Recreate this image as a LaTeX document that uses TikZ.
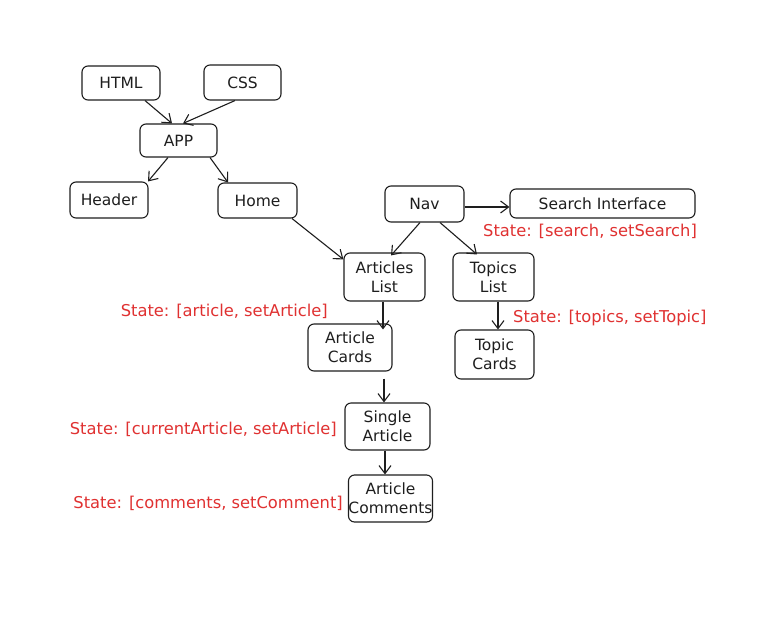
\documentclass[tikz,border=0pt]{standalone}
\usepackage{fontspec}
\setmainfont{DejaVu Sans}
\usetikzlibrary{arrows.meta}
\definecolor{ink}{HTML}{1E1E1E}
\definecolor{redtxt}{HTML}{E03131}
\tikzset{
  box/.style={draw=ink, line width=1.1pt, rounded corners=6pt, fill=white, align=center,
    inner sep=0pt, font=\fontsize{15.5}{19}\selectfont, text=ink},
  conn/.style={draw=ink, line width=1.1pt, -{Straight Barb[length=8pt,width=12pt,line width=1.1pt]}},
  state/.style={text=redtxt, font=\fontsize{16.3}{19}\selectfont, inner sep=0pt}
}
\begin{document}
\begin{tikzpicture}[x=1pt,y=-1pt]
\useasboundingbox[fill=white] (0,0) rectangle (781,616);
\node[box, minimum width=78pt, minimum height=34pt] (html) at (121,83) {HTML};
\node[box, minimum width=77pt, minimum height=35pt] (css) at (242.5,82.5) {CSS};
\node[box, minimum width=77pt, minimum height=33pt] (app) at (178.5,140.5) {APP};
\node[box, minimum width=78pt, minimum height=36pt] (header) at (109,200) {Header};
\node[box, minimum width=79pt, minimum height=35pt] (home) at (257.5,200.5) {Home};
\node[box, minimum width=79pt, minimum height=36pt] (nav) at (424.5,204) {Nav};
\node[box, minimum width=185pt, minimum height=29pt] (search) at (602.5,203.5) {Search Interface};
\node[box, minimum width=81pt, minimum height=48pt] (artlist) at (384.5,277) {Articles\\List};
\node[box, minimum width=81pt, minimum height=48pt] (toplist) at (493.5,277) {Topics\\List};
\node[box, minimum width=84pt, minimum height=47pt] (artcards) at (350,347.5) {Article\\Cards};
\node[box, minimum width=79pt, minimum height=49pt] (topcards) at (494.5,354.5) {Topic\\Cards};
\node[box, minimum width=85pt, minimum height=47pt] (single) at (387.5,426.5) {Single\\Article};
\node[box, minimum width=83pt, minimum height=47pt] (comments) at (390.5,498.5) {Article\\Comments};

\node[state, anchor=west] (s1) at (483,231) {State: [search, setSearch]};
\node[state, anchor=east] (s2) at (328,311) {State: [article, setArticle]};
\node[state, anchor=west] (s3) at (513,318) {State: [topics, setTopic]};
\node[state, anchor=east] (s4) at (337,429) {State: [currentArticle, setArticle]};
\node[state, anchor=east] (s5) at (343,503) {State: [comments, setComment]};

\draw[conn] ([xshift=24pt]html.south) -- ([xshift=-6.5pt]app.north);
\draw[conn] ([xshift=-7.5pt]css.south) -- ([xshift=4.5pt]app.north);
\draw[conn] ([xshift=-10.5pt]app.south) -- ([xshift=39pt]header.north);
\draw[conn] ([xshift=31.5pt]app.south) -- ([xshift=-29.5pt]home.north);
\draw[conn] ([xshift=34.5pt]home.south) -- ([yshift=-7pt]artlist.north west);
\draw[conn] ([xshift=-4.5pt]nav.south) -- ([xshift=6.5pt,yshift=-3pt]artlist.north);
\draw[conn] ([xshift=15.5pt]nav.south) -- ([xshift=-16.5pt,yshift=-2pt]toplist.north);
\draw[conn] ([yshift=-3pt]nav.east) -- ([yshift=-3.5pt]search.west);
\draw[conn] ([xshift=-1.5pt]artlist.south) -- ([xshift=33pt,yshift=-6pt]artcards.north);
\draw[conn] ([xshift=4.5pt]toplist.south) -- ([xshift=3.5pt]topcards.north);
\draw[conn] ([xshift=34pt,yshift=-7pt]artcards.south) -- ([xshift=-3.5pt]single.north);
\draw[conn] ([xshift=-2.5pt]single.south) -- ([xshift=-5.5pt]comments.north);
\end{tikzpicture}
\end{document}
